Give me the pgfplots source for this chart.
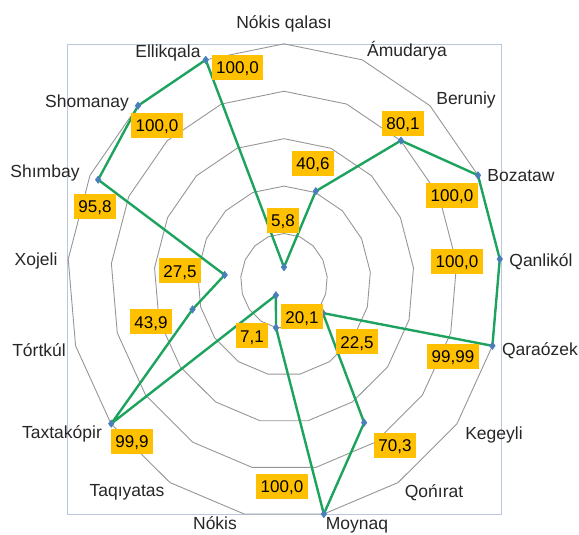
\documentclass[border=0pt]{standalone}
\usepackage{pgfplots}
\usepackage{pgfplotstable}
\pgfplotsset{compat=1.18}
\usepackage{fontspec}
\setmainfont{Liberation Sans}
\definecolor{linegreen}{HTML}{1EA35E}
\definecolor{markblue}{HTML}{4A7EBB}
\definecolor{labfill}{HTML}{FFC000}
\definecolor{ringgray}{HTML}{969696}
\definecolor{boxblue}{HTML}{B9C6DB}
\definecolor{txt}{HTML}{262626}

% k = category index clockwise from top, val = value (0..100)
% lx ly = data label centre, nx ny = category name baseline (px from centre)
\pgfplotstableread{
k  val    lab    lx     ly     name             nx    ny
0  5.8    5,8    -1     61     {Nókis qalası}   0     253
1  40.6   40,6   29     118    {Ámudarya}       123   225
2  80.1   80,1   119    158    {Beruniy}        182   177
3  100.0  100,0  168    86     {Bozataw}        237   100
4  100.0  100,0  173    20     {Qanlikól}       257   14
5  99.99  99,99  169    -76    {Qaraózek}       256   -75
6  22.5   22,5   73     -61    {Kegeyli}        210   -159
7  70.3   70,3   111    -165   {Qońırat}        150   -217
8  100.0  100,0  -2     -206   {Moynaq}         73    -249
9  20.1   20,1   18     -36    {Nókis}          -69   -249
10 7.1    7,1    -32    -55    {Taqıyatas}      -157  -216
11 99.9   99,9   -152   -161   {Taxtakópir}     -222  -158
12 43.9   43,9   -133   -41    {Tórtkúl}        -245  -76
13 27.5   27,5   -104   10     {Xojeli}         -248  16
14 95.8   95,8   -189   75     {Shımbay}        -239  104
15 100.0  100,0  -127   156    {Shomanay}       -197  174
16 100.0  100,0  -46.5  214.5  {Ellikqala}      -116  224
17 5.8    {}     0      0      {}               0     0
}\radar

\begin{document}
\begin{tikzpicture}
\begin{axis}[
    scale only axis,
    width=579pt, height=535pt,
    xmin=-284, xmax=295, ymin=-255, ymax=282,
    axis lines=none, clip=false,
    every axis plot/.append style={line join=round},
]
\path (rel axis cs:0,0) rectangle (rel axis cs:1,1);
% plot-area frame
\draw[boxblue, line width=0.8pt] (axis cs:-217,237) rectangle (axis cs:217,-234);
% polygonal rings
\pgfplotsinvokeforeach{20,40,60,80,100}{
  \addplot[ringgray, line width=0.9pt, mark=none]
    table[x expr={#1*2.167*sin(\thisrow{k}*360/17)},
          y expr={#1*2.38*cos(\thisrow{k}*360/17)}] {\radar};
}
% series line (closed)
\addplot[linegreen, line width=2.4pt, mark=none]
  table[x expr={\thisrow{val}*2.167*sin(\thisrow{k}*360/17)},
        y expr={\thisrow{val}*2.38*cos(\thisrow{k}*360/17)}] {\radar};
% markers
\addplot[only marks, mark=diamond*, mark size=3.8pt,
         mark options={fill=markblue, draw=markblue},
         skip coords between index={17}{18}]
  table[x expr={\thisrow{val}*2.167*sin(\thisrow{k}*360/17)},
        y expr={\thisrow{val}*2.38*cos(\thisrow{k}*360/17)}] {\radar};
% data labels
\addplot[only marks, mark=none, point meta=explicit symbolic,
         nodes near coords, nodes near coords align=center,
         nodes near coords style={anchor=center, fill=labfill, text=black,
            font=\fontsize{17pt}{19pt}\selectfont, inner xsep=4.5pt, inner ysep=0pt,
            minimum height=25pt, text height=12.6pt, text depth=0pt},
         skip coords between index={17}{18}]
  table[x=lx, y=ly, meta=lab] {\radar};
% category names
\addplot[only marks, mark=none, point meta=explicit symbolic,
         nodes near coords, nodes near coords align=center,
         nodes near coords style={anchor=base, text=txt, inner sep=0pt,
            font=\fontsize{17.5pt}{20pt}\selectfont},
         skip coords between index={17}{18}]
  table[x=nx, y=ny, meta=name] {\radar};
\end{axis}
\end{tikzpicture}
\end{document}
